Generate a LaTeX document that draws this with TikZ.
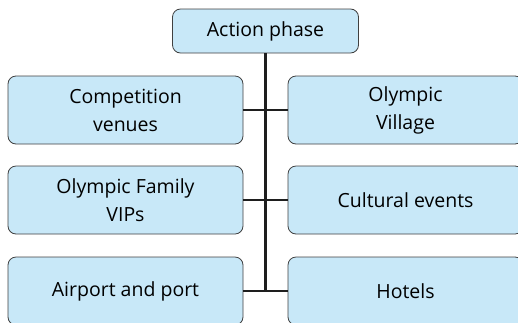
\documentclass[tikz,border=0pt]{standalone}
\usepackage{fontspec}
\setmainfont{Open Sans}
\definecolor{phaseblue}{RGB}{200,232,248}
\definecolor{phaseline}{RGB}{30,30,30}
\usetikzlibrary{positioning}

\tikzset{
  phasebox/.style={draw=phaseline!85, fill=phaseblue, rounded corners=8pt,
    line width=0.8pt, align=center, inner sep=0pt,
    font=\fontsize{19.5}{28}\selectfont},
  leafbox/.style={phasebox, minimum width=235pt, minimum height=68pt},
  trunk/.style={phaseline, line width=3.8pt},
  branch/.style={phaseline, line width=2.8pt}
}

\begin{document}
\begin{tikzpicture}[x=1pt, y=-1pt]

\useasboundingbox (0,0) rectangle (518,322);
\clip (0,0) rectangle (518,322);

% --- Top of the tree ---
\node[phasebox, minimum width=186pt, minimum height=44pt]
      (action) at (265.5,31) {Action phase};

% --- Left column ---
\node[leafbox] (venues)  at (125.5,110) {Competition\\venues};
\node[leafbox] (family)  at (125.5,200) {Olympic Family\\VIPs};
\node[leafbox] (airport) at (125.5,291) {Airport and port};

% --- Right column ---
\node[leafbox] (village) at (405.5,110) {Olympic\\Village};
\node[leafbox] (culture) at (405.5,200) {Cultural events};
\node[leafbox] (hotels)  at (405.5,291) {Hotels};

% Trunk
\coordinate (trunkend) at (265.5,291);
\draw[trunk] (action.south) -- (trunkend);

% Branches
\draw[branch] (venues.east)  -- (village.west);
\draw[branch] (family.east)  -- (culture.west);
\draw[branch] (airport.east) -- (hotels.west);

\end{tikzpicture}
\end{document}
